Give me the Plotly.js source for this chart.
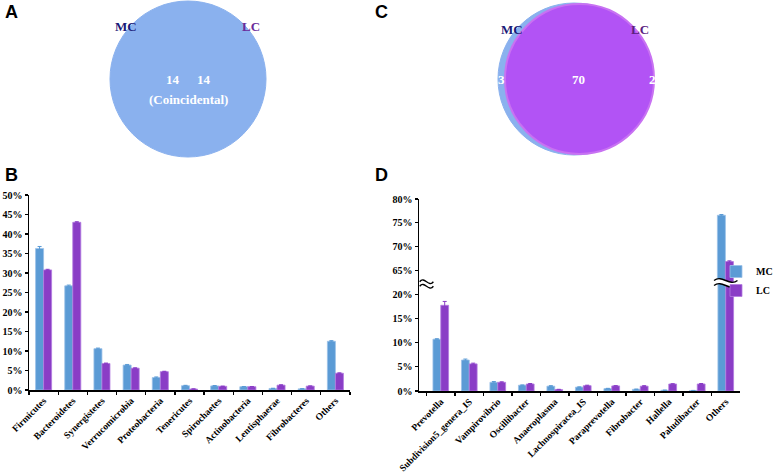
<!DOCTYPE html>
<html>
<head>
<meta charset="utf-8">
<script src="https://cdn.plot.ly/plotly-3.0.1.min.js"></script>
<style>html,body{margin:0;padding:0;background:#fff;}#chart{width:778px;height:474px;}</style>
</head>
<body>
<div id="chart"></div>
<script>
// ---- Data ----
const phylaCats = ["Firmicutes","Bacteroidetes","Synergistetes","Verrucomicrobia","Proteobacteria","Tenericutes","Spirochaetes","Actinobacteria","Lentisphaerae","Fibrobacteres","Others"];
const phylaMC = [36.3, 26.7, 10.6, 6.4, 3.2, 1.1, 1.05, 0.85, 0.4, 0.3, 12.5];
const phylaLC = [30.8, 43.0, 6.8, 5.6, 4.7, 0.25, 0.95, 0.85, 1.25, 1.0, 4.3];
const phylaMCerr = [0.5, 0.2, 0.15, 0.15, 0.15, 0.1, 0.1, 0.05, 0.05, 0.05, 0.15];
const phylaLCerr = [0.15, 0.15, 0.1, 0.1, 0.1, 0.05, 0.05, 0.05, 0.1, 0.05, 0.1];

const genusCats = ["Prevotella","Subdivision5_genera_IS","Vampirovibrio","Oscillibacter","Anaeroplasma","Lachnospiracea_IS","Paraprevotella","Fibrobacter","Hallella","Paludibacter","Others"];
const genusMC = [10.7, 6.4, 1.8, 1.2, 1.0, 0.8, 0.5, 0.35, 0.15, 0.1, 76.6];
const genusLC = [17.7, 5.6, 1.8, 1.45, 0.3, 1.1, 1.05, 1.0, 1.45, 1.45, 66.9];
const genusMCerr = [0.1, 0.2, 0.15, 0.05, 0.1, 0.05, 0.05, 0.05, 0.05, 0.02, 0.15];
const genusLCerr = [0.8, 0.15, 0.1, 0.1, 0.05, 0.1, 0.05, 0.1, 0.05, 0.1, 0.15];

const groupNames = ["MC", "LC"];
const vennA = {mcOnly: 14, lcOnly: 14, note: "(Coincidental)"};
const vennC = {mcOnly: 3, shared: 70, lcOnly: 2};

// ---- Styles ----
const W = 778, H = 474;
const blue = "#5B9BD5", purple = "#8A3DC6";
const serif = "Liberation Serif";
const tickFont = {family: serif, size: 10, color: "#000", weight: "bold"};
const xTickFont = {family: serif, size: 9.5, color: "#000", weight: "bold"};
const px = (x) => x / W;
const py = (y) => 1 - y / H;

function barTrace(cats, vals, errs, name, color, xa, ya, showLeg) {
  return {
    type: "bar", x: cats, y: vals, name: name, xaxis: xa, yaxis: ya,
    showlegend: showLeg, legendgroup: name,
    marker: {color: color, line: {color: name === "MC" ? "#9CC2E8" : "#B37BE0", width: 0.8}},
    error_y: {type: "data", array: errs, visible: true, color: color, thickness: 1, width: 2},
    hoverinfo: "skip"
  };
}

const data = [
  barTrace(phylaCats, phylaMC, phylaMCerr, groupNames[0], blue, "x", "y", true),
  barTrace(phylaCats, phylaLC, phylaLCerr, groupNames[1], purple, "x", "y", true),
  barTrace(genusCats, genusMC, genusMCerr, groupNames[0], blue, "x2", "y2", false),
  barTrace(genusCats, genusLC, genusLCerr, groupNames[1], purple, "x2", "y2", false),
  barTrace(genusCats, genusMC, genusMCerr, groupNames[0], blue, "x3", "y3", false),
  barTrace(genusCats, genusLC, genusLCerr, groupNames[1], purple, "x3", "y3", false)
];

const axCommon = {
  showline: true, linecolor: "#000", linewidth: 1.5, showgrid: false, zeroline: false,
  ticks: "outside", ticklen: 3, tickwidth: 1.2, tickcolor: "#000", tickfont: tickFont,
  fixedrange: true
};

const xB = [29, 350], xD = [419, 740];
const unitD = (xD[1] - xD[0]) / genusCats.length;

// break symbol in pixel offsets -> data x (x2) / paper y
function breakShapes(xcData, ycPx, halfWpx, gapPx) {
  const X = (dpx) => xcData + dpx / unitD;
  const Y = (ypx) => py(ypx);
  const a = 3.2;
  function wave(y0) {
    return `M${X(-halfWpx)},${Y(y0)} C${X(-halfWpx/3)},${Y(y0 - 2*a)} ${X(halfWpx/3)},${Y(y0 + 2*a)} ${X(halfWpx)},${Y(y0)}`;
  }
  const yt = ycPx - gapPx / 2, yb = ycPx + gapPx / 2;
  const fill = `M${X(-halfWpx)},${Y(yt)} C${X(-halfWpx/3)},${Y(yt - 2*a)} ${X(halfWpx/3)},${Y(yt + 2*a)} ${X(halfWpx)},${Y(yt)} L${X(halfWpx)},${Y(yb)} C${X(halfWpx/3)},${Y(yb + 2*a)} ${X(-halfWpx/3)},${Y(yb - 2*a)} ${X(-halfWpx)},${Y(yb)} Z`;
  return [
    {type: "path", xref: "x2", yref: "paper", path: fill, fillcolor: "#fff", line: {width: 0}, layer: "above"},
    {type: "path", xref: "x2", yref: "paper", path: wave(yt), line: {color: "#000", width: 1.4}, layer: "above"},
    {type: "path", xref: "x2", yref: "paper", path: wave(yb), line: {color: "#000", width: 1.4}, layer: "above"}
  ];
}

const shapes = [
  // Venn A
  {type: "circle", xref: "paper", yref: "paper", x0: px(110), x1: px(266), y0: py(157), y1: py(1),
   fillcolor: "#8AB1EE", line: {color: "#8AB1EE", width: 1}, layer: "below"},
  // Venn C
  {type: "circle", xref: "paper", yref: "paper", x0: px(498), x1: px(650), y0: py(155), y1: py(3),
   fillcolor: "#8AB1EE", line: {color: "#8AB1EE", width: 1}, layer: "below"},
  {type: "circle", xref: "paper", yref: "paper", x0: px(505), x1: px(654), y0: py(154), y1: py(4),
   fillcolor: "#B253F5", line: {color: "#C872F2", width: 2}, layer: "below"},
  ...breakShapes(-0.5, 284, 7, 4.5),
  ...breakShapes(genusCats.length - 1, 283, 12, 5)
];

function ann(text, x, y, size, color, family) {
  return {text: text, xref: "paper", yref: "paper", x: px(x), y: py(y), xanchor: "center", yanchor: "middle",
    showarrow: false, font: {family: family || serif, size: size, color: color, weight: "bold"}};
}

const annotations = [
  ann("A", 11, 12, 18, "#000", "Liberation Sans"),
  ann("B", 11, 175, 18, "#000", "Liberation Sans"),
  ann("C", 381, 12, 18, "#000", "Liberation Sans"),
  ann("D", 381, 175, 18, "#000", "Liberation Sans"),
  ann("MC", 126, 27, 13, "#1A1A78"),
  ann("LC", 251, 27, 13, "#6A2A9A"),
  ann(String(vennA.mcOnly), 173, 80, 13, "#fff"),
  ann(String(vennA.lcOnly), 204, 80, 13, "#fff"),
  ann(vennA.note, 188, 100, 13, "#fff"),
  ann("MC", 512, 29, 13, "#1A1A78"),
  ann("LC", 640, 29, 13, "#5A2080"),
  ann(String(vennC.mcOnly), 501, 80, 13, "#fff"),
  ann(String(vennC.shared), 578, 80, 13, "#fff"),
  ann(String(vennC.lcOnly), 652, 80, 13, "#fff")
];

const layout = {
  width: W, height: H,
  margin: {l: 0, r: 0, t: 0, b: 0},
  paper_bgcolor: "#fff", plot_bgcolor: "rgba(0,0,0,0)",
  barmode: "group", bargap: 0.45, bargroupgap: 0,
  showlegend: true,
  legend: {x: px(716), y: py(257), xanchor: "left", yanchor: "top", bgcolor: "rgba(0,0,0,0)",
    font: {family: serif, size: 10, color: "#000", weight: "bold"}, tracegroupgap: 0, itemwidth: 30},
  xaxis: Object.assign({}, axCommon, {domain: [px(xB[0]), px(xB[1])], anchor: "y", type: "category",
    tickangle: -45, tickson: "boundaries", tickfont: xTickFont}),
  yaxis: Object.assign({}, axCommon, {domain: [py(390), py(195)], anchor: "x", range: [0, 50], dtick: 5, ticksuffix: "%"}),
  xaxis2: Object.assign({}, axCommon, {domain: [px(xD[0]), px(xD[1])], anchor: "y2", type: "category",
    tickangle: -45, tickson: "boundaries", tickfont: xTickFont}),
  yaxis2: Object.assign({}, axCommon, {domain: [py(391), py(284)], anchor: "x2", range: [0, 22.1],
    tickvals: [0, 5, 10, 15, 20], ticktext: ["0%", "5%", "10%", "15%", "20%"]}),
  xaxis3: {domain: [px(xD[0]), px(xD[1])], anchor: "y3", type: "category", visible: false, fixedrange: true},
  yaxis3: Object.assign({}, axCommon, {domain: [py(284), py(199)], anchor: "x3", range: [62.2, 80],
    tickvals: [65, 70, 75, 80], ticktext: ["65%", "70%", "75%", "80%"]}),
  shapes: shapes,
  annotations: annotations
};

Plotly.newPlot("chart", data, layout, {staticPlot: true, displayModeBar: false});
</script>
</body>
</html>
